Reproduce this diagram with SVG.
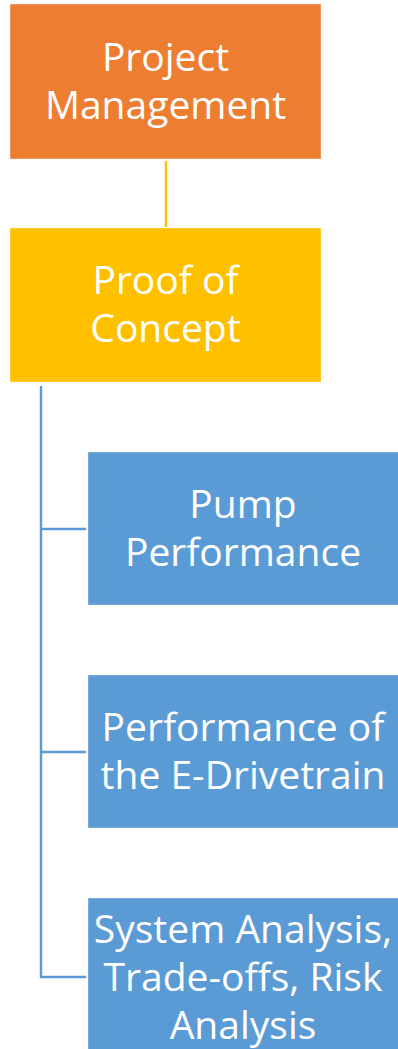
<svg xmlns="http://www.w3.org/2000/svg" width="398" height="1049" viewBox="0 0 398 1049">
<style>
.t{font-family:"Open Sans","Noto Sans",sans-serif;font-size:39px;fill:#fff;text-anchor:middle}
.b{stroke:#fff;stroke-opacity:0.35;stroke-width:1}
.c{fill:none;stroke-width:2.4}
</style>
<rect width="398" height="1049" fill="#fff"/>
<g id="connectors">
<line class="c" x1="166" y1="161" x2="166" y2="227" stroke="#FFC000"/>
<path class="c" d="M41 386 V977 H86 M41 529 H86 M41 752 H86" stroke="#5B9BD5"/>
</g>
<g id="n1">
<rect class="b" x="10" y="4" width="311" height="155" fill="#ED7D31"/>
<text class="t" x="165.5" y="71">Project</text>
<text class="t" x="165.5" y="119">Management</text>
</g>
<g id="n2">
<rect class="b" x="10" y="228" width="311" height="154" fill="#FFC000"/>
<text class="t" x="165.5" y="294">Proof of</text>
<text class="t" x="165.5" y="342">Concept</text>
</g>
<g id="n3">
<rect class="b" x="88" y="452" width="311" height="153" fill="#5B9BD5"/>
<text class="t" x="243" y="518">Pump</text>
<text class="t" x="243" y="566">Performance</text>
</g>
<g id="n4">
<rect class="b" x="88" y="675" width="311" height="153" fill="#5B9BD5"/>
<text class="t" x="243" y="741">Performance of</text>
<text class="t" x="243" y="789">the E-Drivetrain</text>
</g>
<g id="n5">
<rect class="b" x="88" y="898" width="311" height="152" fill="#5B9BD5"/>
<text class="t" x="243" y="943">System Analysis,</text>
<text class="t" x="243" y="991">Trade-offs, Risk</text>
<text class="t" x="243" y="1039">Analysis</text>
</g>
</svg>
